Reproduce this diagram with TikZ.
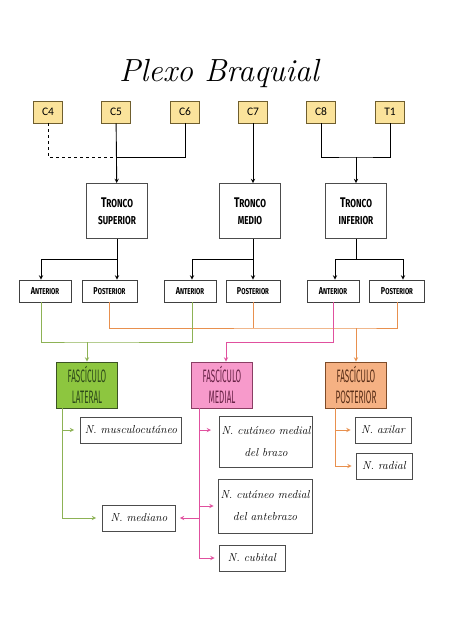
\documentclass[tikz,border=0pt]{standalone}
\usepackage{fontspec}
\usepackage{tikz}
\usetikzlibrary{arrows, positioning}

\newfontfamily\rootfont{Carlito}
\newfontfamily\capsfont[FakeStretch=0.72]{Fira Sans}
\newfontfamily\cordfont[FakeStretch=0.45]{Fira Sans}

\definecolor{rootfill}{HTML}{FBE39B}
\definecolor{rootborder}{HTML}{6F5E2E}
\definecolor{latfill}{HTML}{8DC63F}
\definecolor{latborder}{HTML}{3B5323}
\definecolor{lattext}{HTML}{2E4A1A}
\definecolor{latline}{HTML}{8DB255}
\definecolor{medfill}{HTML}{F79ACB}
\definecolor{medborder}{HTML}{8A3E64}
\definecolor{medtext}{HTML}{6A2448}
\definecolor{medline}{HTML}{E0509E}
\definecolor{postfill}{HTML}{F5B183}
\definecolor{postborder}{HTML}{7E4B28}
\definecolor{posttext}{HTML}{5A2F18}
\definecolor{postline}{HTML}{E8904E}

% first letter large, the rest as small capitals
\newcommand{\bigfirst}[2]{{\fontsize{14}{14}\selectfont #1}{\fontsize{11.5}{14}\selectfont #2}}
\newcommand{\smallfirst}[2]{{\fontsize{10}{10}\selectfont #1}{\fontsize{8.5}{10}\selectfont #2}}

\begin{document}
\begin{tikzpicture}[
		x = 1pt, y = -1pt, % one unit per pixel of the sheet
		> = stealth, % arrow head style
		line width = 0.9pt % line style
		]

		\useasboundingbox (0,0) rectangle (453,640);

		\tikzstyle{root}=[
		draw = rootborder,
		fill = rootfill,
		minimum width = 29pt,
		minimum height = 22pt,
		inner sep = 0pt,
		font = \rootfont\fontsize{11.5}{12}\selectfont
		]
		\tikzstyle{trunk}=[
		draw = black!70,
		minimum width = 61pt,
		minimum height = 55pt,
		inner sep = 0pt,
		align = center,
		font = \capsfont\bfseries
		]
		\tikzstyle{division}=[
		draw = black!75,
		minimum height = 22pt,
		inner sep = 0pt,
		font = \capsfont\bfseries
		]
		\tikzstyle{cord}=[
		minimum width = 61pt,
		minimum height = 46pt,
		inner sep = 0pt,
		align = center,
		font = \cordfont\fontsize{18}{21}\selectfont
		]
		\tikzstyle{nerve}=[
		draw = black!70,
		minimum height = 26pt,
		inner sep = 0pt,
		align = center,
		font = \itshape\fontsize{11.5}{22}\selectfont
		]

		\node (title) at (219,73) {\itshape\fontsize{32}{36}\selectfont Plexo Braquial};

		\node[root] (C4) at (48,112) {C4};
		\node[root] (C5) at (116,112) {C5};
		\node[root] (C6) at (185,112) {C6};
		\node[root] (C7) at (253,112) {C7};
		\node[root] (C8) at (321,112) {C8};
		\node[root] (T1) at (390,112) {T1};

		\node[trunk] (sup) at (117,211) {\bigfirst{T}{RONCO}\\[5pt]\bigfirst{}{SUPERIOR}};
		\node[trunk] (med) at (250,211) {\bigfirst{T}{RONCO}\\[5pt]\bigfirst{}{MEDIO}};
		\node[trunk] (inf) at (356,211) {\bigfirst{T}{RONCO}\\[5pt]\bigfirst{}{INFERIOR}};

		\node[division, minimum width = 52pt] (antS) at (45,291) {\smallfirst{A}{NTERIOR}};
		\node[division, minimum width = 55pt] (postS) at (109.5,291) {\smallfirst{P}{OSTERIOR}};
		\node[division, minimum width = 52pt] (antM) at (190,291) {\smallfirst{A}{NTERIOR}};
		\node[division, minimum width = 54pt] (postM) at (253,291) {\smallfirst{P}{OSTERIOR}};
		\node[division, minimum width = 52pt] (antI) at (333,291) {\smallfirst{A}{NTERIOR}};
		\node[division, minimum width = 55pt] (postI) at (397,291) {\smallfirst{P}{OSTERIOR}};

		\node[cord, draw = latborder, fill = latfill, text = lattext] (lat) at (87,385) {FASCÍCULO\\LATERAL};
		\node[cord, draw = medborder, fill = medfill, text = medtext] (medial) at (222,385) {FASCÍCULO\\MEDIAL};
		\node[cord, draw = postborder, fill = postfill, text = posttext] (post) at (356,385) {FASCÍCULO\\POSTERIOR};

		\node[nerve, minimum width = 101pt] (musc) at (131,430) {N. musculocutáneo};
		\node[nerve, minimum width = 73pt] (mediano) at (139,518) {N. mediano};
		\node[nerve, minimum width = 93pt, minimum height = 51pt] (brazo) at (266,442) {N. cutáneo medial\\del brazo};
		\node[nerve, minimum width = 94pt, minimum height = 54pt] (antebrazo) at (265,506) {N. cutáneo medial\\del antebrazo};
		\node[nerve, minimum width = 66pt] (cubital) at (252,558) {N. cubital};
		\node[nerve, minimum width = 56pt] (axilar) at (383,430) {N. axilar};
		\node[nerve, minimum width = 56pt] (radial) at (384,466) {N. radial};

		% roots into trunks
		\coordinate (upper) at (116,157);
		\coordinate (lower) at (356,157);
		\draw[dashed] (C4) |- (upper);
		\draw (C6) |- (upper);
		\draw[->] (C5) -- (sup);
		\draw[->] (C7) -- (C7 |- med.north);
		\draw (C8) |- (lower) -| (T1);
		\draw[->] (lower) -- (inf);

		% trunks into divisions
		\draw (sup.south) -- ++(0,20) coordinate (sj);
		\draw[->] (sj) -| ([xshift=-4pt]antS.north);
		\draw[->] (sj) -- (sj |- postS.north);
		\draw (C7 |- med.south) -- ++(0,20) coordinate (mj);
		\draw[->] (mj) -| ([xshift=2pt]antM.north);
		\draw[->] (mj) -- (mj |- postM.north);
		\draw (inf.south) -- ++(0,20) coordinate (ij);
		\draw[->] (ij) -| ([xshift=2pt]antI.north);
		\draw[->] (ij) -| ([xshift=6pt]postI.north);

		% divisions into cords
		\coordinate (lj) at (87,342);
		\coordinate (pj) at (356,328);
		\coordinate (dj) at (226,342);
		\draw[postline] (postS) |- (pj) -| (postI);
		\draw[postline] (postM) -- (postM |- pj);
		\draw[postline, ->] (pj) -- (post);
		\draw[latline] (antS.south) ++(-4,0) |- (lj) -| ([xshift=2pt]antM.south);
		\draw[latline, ->] (lj) -- (lat);
		\draw[medline, ->] (antI) |- (dj) -- (dj |- medial.north);

		% cords into nerves
		\draw[latline, ->, shorten > = 6pt] ([xshift=-25pt]lat.south) |- (mediano);
		\draw[latline, ->, shorten > = 6pt] ([xshift=-25pt]lat.south |- musc) -- (musc);
		\draw[medline, ->, shorten > = 4pt] ([xshift=-23pt]medial.south) |- (cubital);
		\draw[medline, ->, shorten > = 4pt] ([xshift=-23pt]medial.south |- brazo.north) ++(0,14) -- ++(16,0);
		\draw[medline, ->, shorten > = 4pt] ([xshift=-23pt]medial.south |- antebrazo) -- (antebrazo);
		\draw[medline, ->, shorten > = 4pt] ([xshift=-23pt]medial.south |- mediano) -- (mediano);
		\draw[postline, ->, shorten > = 4pt] ([xshift=-21pt]post.south) |- (radial);
		\draw[postline, ->, shorten > = 4pt] ([xshift=-21pt]post.south |- axilar) -- (axilar);

		\end{tikzpicture}
\end{document}
